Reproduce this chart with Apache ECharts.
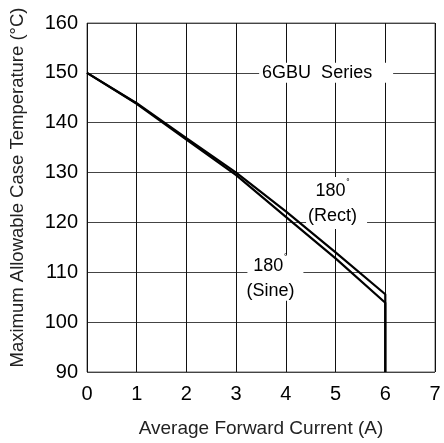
<!DOCTYPE html>
<html><head><meta charset="utf-8">
<script src="https://cdn.jsdelivr.net/npm/echarts@6/dist/echarts.min.js"></script>
<style>html,body{margin:0;padding:0;background:#fff}#c{width:444px;height:443px}</style>
</head><body><div id="c"></div>
<script>
const currentA = [0, 1, 2, 3, 4, 5, 6, 6];
const rectTemp = [150, 143.9, 136.9, 130.0, 122.2, 114.0, 105.6, 90];
const sineTemp = [150, 143.8, 136.6, 129.5, 121.1, 112.8, 103.9, 90];
const xTicks = [0, 1, 2, 3, 4, 5, 6, 7];
const yTicks = [90, 100, 110, 120, 130, 140, 150, 160];
const labelNames = ['6GBU  Series', 'rect', 'sine'];
const labelX = [4.81, 5.02, 3.79];
const labelY = [150, 123.9, 108.9];

const chart = echarts.init(document.getElementById('c'));
const font = '"Liberation Sans", Arial, sans-serif';
const rich = {
  n: {fontSize: 18, fontFamily: font, color: '#000', lineHeight: 25},
  d: {fontSize: 10, fontFamily: font, color: '#000', verticalAlign: 'top', lineHeight: 25, padding: [0,0,10,1]}
};
const boxSize = [[134, 20], [61, 52], [56, 46]];
const boxOffset = [[-9, 0], [-4, 1], [-5, 1]];
chart.setOption({
  animation: false,
  grid: {left: 86, right: 9, top: 23, bottom: 68, show: true, borderColor: '#666', borderWidth: 1},
  xAxis: {
    type: 'value', min: 0, max: 7, interval: 1,
    name: 'Average Forward Current (A)', nameLocation: 'middle', nameGap: 47,
    nameTextStyle: {fontSize: 19, fontFamily: font, color: '#222'},
    axisLine: {show: false}, axisTick: {show: false},
    axisLabel: {fontSize: 20, fontFamily: font, color: '#000', margin: 12,
      formatter: v => xTicks.includes(v) ? String(v) : ''},
    splitLine: {show: true, lineStyle: {color: '#111', width: 1}}
  },
  yAxis: {
    type: 'value', min: 90, max: 160, interval: 10,
    name: 'Maximum Allowable Case Temperature (°C)', nameLocation: 'middle', nameGap: 60,
    nameTextStyle: {fontSize: 18.5, fontFamily: font, color: '#222', padding: [0, 0, 0, 20]},
    axisLine: {show: false}, axisTick: {show: false},
    axisLabel: {fontSize: 20, fontFamily: font, color: '#000', margin: 9,
      formatter: v => yTicks.includes(v) ? String(v) : ''},
    splitLine: {show: true, lineStyle: {color: '#444', width: 1}}
  },
  series: [
    {type: 'scatter', symbol: 'rect', z: 3, silent: true,
     data: labelNames.map((n, i) => ({
       name: n, value: [labelX[i], labelY[i]],
       symbolSize: boxSize[i],
       itemStyle: {color: '#fff', opacity: 1},
       label: {offset: boxOffset[i]}
     })),
     label: {show: true, position: 'inside',
       formatter: p => {
         if (p.name === 'rect') return '{n|180}{d|˚}\n{n|(Rect)}';
         if (p.name === 'sine') return '{n|180}{d|˚}\n{n|(Sine)}';
         return '{n|' + p.name + '}';
       },
       rich: rich, fontFamily: font, fontSize: 18, color: '#000'}
    },
    {type: 'line', name: 'Rect', data: currentA.map((x, i) => [x, rectTemp[i]]),
     symbol: 'none', lineStyle: {color: '#000', width: 2.2}, z: 5},
    {type: 'line', name: 'Sine', data: currentA.map((x, i) => [x, sineTemp[i]]),
     symbol: 'none', lineStyle: {color: '#000', width: 2.2}, z: 5}
  ]
});
</script></body></html>
